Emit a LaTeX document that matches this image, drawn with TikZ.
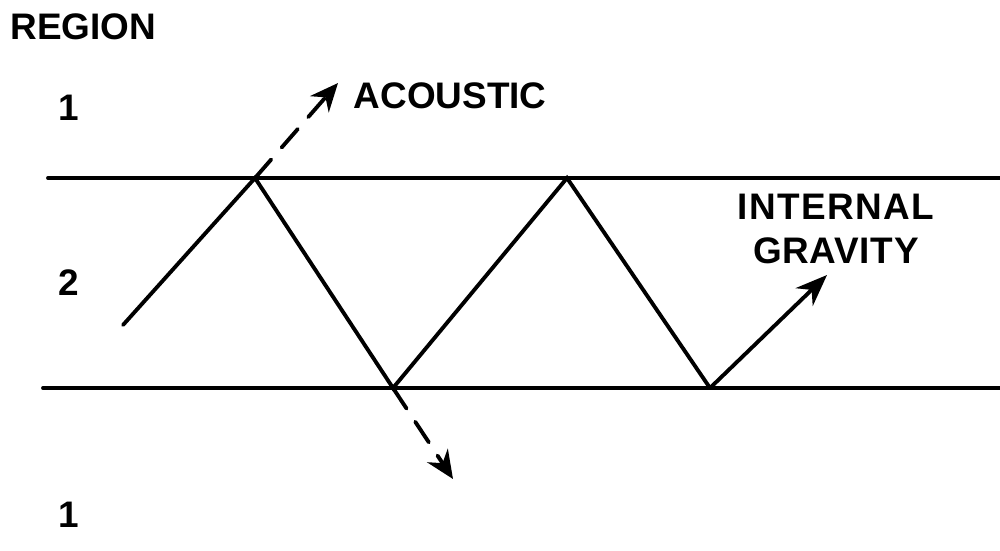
\documentclass[tikz,border=0pt]{standalone}
\usepackage{fontspec}
\setsansfont{Liberation Sans}
\usetikzlibrary{positioning,arrows.meta}
\begin{document}
\begin{tikzpicture}[
  x=0.01cm, y=-0.01cm,
  font=\sffamily\bfseries\fontsize{10.5}{12.5}\selectfont,
  bnd/.style={line width=1.1pt, line cap=round},
  ray/.style={line width=1.1pt, line cap=round, line join=miter},
  leak/.style={ray, dash pattern=on 7pt off 4.5pt, -{Stealth[length=8pt,width=7pt]}},
  lbl/.style={inner sep=0pt, align=center},
]
\useasboundingbox (0,0) rectangle (1000,550);
% ---------- boundaries ----------
\coordinate (tl) at (48,178);
\coordinate (tr) at (1000,178);
\coordinate (bl) at (43,388);
\coordinate (br) at (1000,388);
\draw[bnd] (tl) -- (tr);
\draw[bnd] (bl) -- (br);
% ---------- zigzag ray ----------
\coordinate (r0) at (123,325);
\coordinate (r1) at (255,178);
\coordinate (r2) at (393,388);
\coordinate (r3) at (567,178);
\coordinate (r4) at (710,388);
\coordinate (r5) at (827,275);
\draw[ray] (r0) -- (r1) -- (r2) -- (r3) -- (r4);
\draw[ray, -{Stealth[length=9pt,width=7pt]}] (r4) -- (r5);
% ---------- leaking rays ----------
\coordinate (up) at (338,83);
\coordinate (dn) at (453,479);
\draw[leak] (r1) -- (up);
\draw[leak] (r2) -- (dn);
% ---------- labels ----------
\node[lbl, anchor=west] (region) at (10,27) {REGION};
\node[lbl] (reg1a) at (69,108) {1};
\node[lbl] (reg2) at (69,283) {2};
\node[lbl] (reg1b) at (69,515) {1};
\node[lbl, anchor=west] (acou) at (353,96) {ACOUSTIC};
\node[lbl] (intg) at (836,229) {\addfontfeature{LetterSpace=4}INTERNAL\\\addfontfeature{LetterSpace=2}GRAVITY};
\end{tikzpicture}
\end{document}
